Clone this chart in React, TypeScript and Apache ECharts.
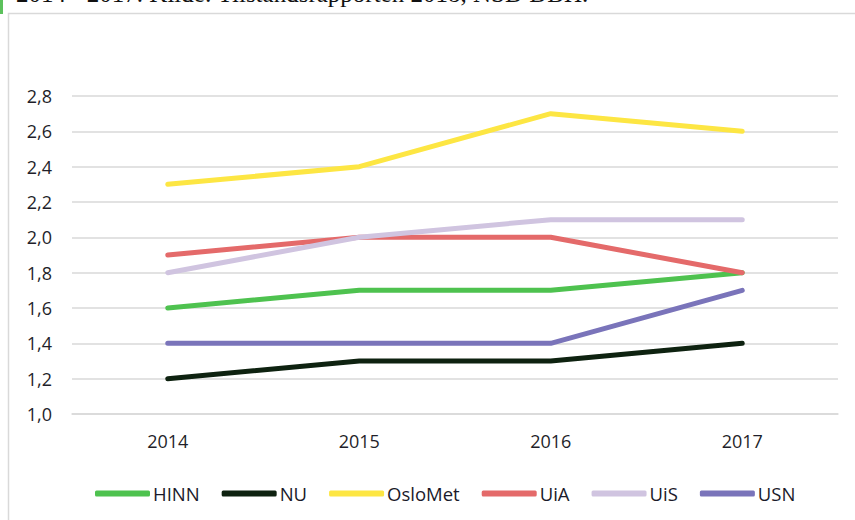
import React, { useEffect, useRef } from "react";
import * as echarts from "echarts";

const years = ["2014", "2015", "2016", "2017"];
const seriesNames = ["HINN", "NU", "OsloMet", "UiA", "UiS", "USN"];
const hinn = [1.6, 1.7, 1.7, 1.8];
const nu = [1.2, 1.3, 1.3, 1.4];
const osloMet = [2.3, 2.4, 2.7, 2.6];
const uia = [1.9, 2.0, 2.0, 1.8];
const uis = [1.8, 2.0, 2.1, 2.1];
const usn = [1.4, 1.4, 1.4, 1.7];
const colors = ["#4EC24F", "#0E2210", "#FDE643", "#E46A6A", "#D0C4E0", "#7A74BA"];
const yMin = 1.0;
const yMax = 2.8;
const yStep = 0.2;
const caption = "2014 - 2017. Kilde: Tilstandsrapporten 2018, NSD DBH.";

export default function App() {
  const ref = useRef<HTMLDivElement>(null);
  useEffect(() => {
    if (!ref.current) return;
    const chart = echarts.init(ref.current, undefined, { renderer: "svg" });
    const values = [hinn, nu, osloMet, uia, uis, usn];
    const font = "'Open Sans', sans-serif";
    chart.setOption({
      animation: false,
      backgroundColor: "#ffffff",
      graphic: [
        {
          type: "rect",
          shape: { x: 8.5, y: 13.5, width: 900, height: 600 },
          style: { fill: "none", stroke: "#d9d9d9", lineWidth: 1.5 },
          silent: true,
        },
        {
          type: "rect",
          shape: { x: 0, y: 0, width: 3, height: 14 },
          style: { fill: "#5CC15C" },
          silent: true,
        },
        {
          type: "text",
          x: 16,
          y: 6,
          style: {
            text: caption,
            font: "25px 'Liberation Serif', serif",
            fill: "#111",
            verticalAlign: "bottom",
            align: "left",
          },
          silent: true,
        },
      ],
      grid: { left: 72, right: 17, top: 96, bottom: 106, containLabel: false },
      legend: {
        data: seriesNames.map((n) => ({ name: n, icon: "roundRect" })),
        left: 90,
        top: 479,
        itemWidth: 55,
        itemHeight: 6,
        itemGap: 22,
        textStyle: {
          fontFamily: font,
          fontSize: 18.5,
          color: "#1a1a2a",
          padding: [0, 0, 0, -2],
        },
      },
      xAxis: {
        type: "category",
        data: years,
        boundaryGap: true,
        axisLine: { show: true, lineStyle: { color: "#d9d9d9", width: 1.5 } },
        axisTick: { show: false },
        axisLabel: {
          margin: 18,
          fontFamily: font,
          fontSize: 18,
          color: "#1f1f2a",
        },
      },
      yAxis: {
        type: "value",
        min: yMin,
        max: yMax,
        interval: yStep,
        axisLine: { show: false },
        axisTick: { show: false },
        splitLine: { lineStyle: { color: "#d9d9d9", width: 1.5 } },
        axisLabel: {
          margin: 20,
          fontFamily: font,
          fontSize: 18,
          color: "#1f1f2a",
          formatter: (v: number) => v.toFixed(1).replace(".", ","),
        },
      },
      series: seriesNames.map((name, i) => ({
        name,
        type: "line",
        data: values[i],
        showSymbol: false,
        symbol: "none",
        color: colors[i],
        lineStyle: { width: 5, color: colors[i], cap: "round", join: "round" },
      })),
    });
    return () => chart.dispose();
  }, []);
  return (
    <div
      ref={ref}
      style={{ position: "fixed", left: 0, top: 0, width: 855, height: 520 }}
    />
  );
}
